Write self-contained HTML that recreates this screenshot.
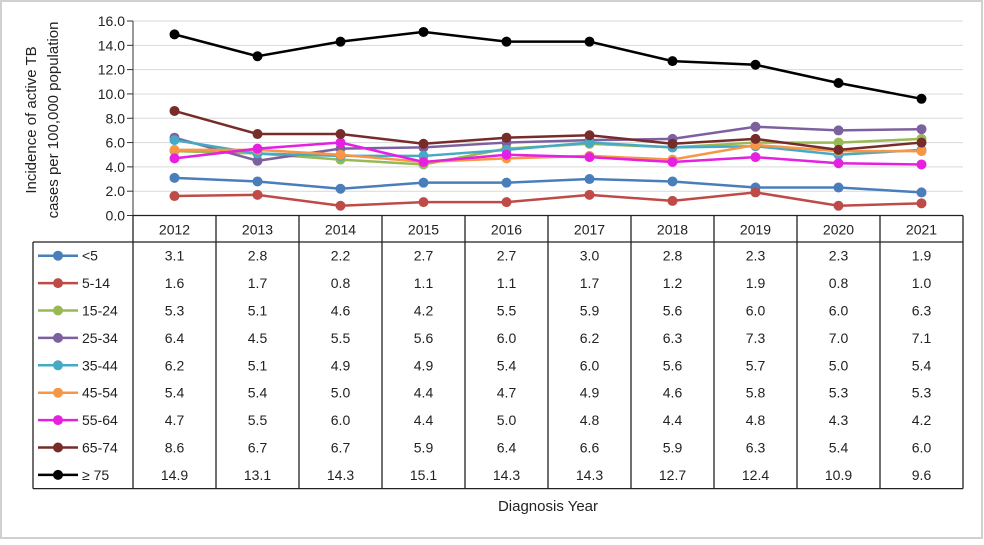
<!DOCTYPE html>
<html><head><meta charset="utf-8"><style>
body{margin:0;background:#fff;}
svg text{font-family:"Liberation Sans",sans-serif;}
</style></head><body>
<svg width="984" height="540" xmlns="http://www.w3.org/2000/svg">
<rect x="1" y="1" width="981" height="537" fill="#fff" stroke="#d0d0d0" stroke-width="2"/>
<g id="grid"></g><g id="table"></g><g id="series"></g>
<text x="0" y="0" transform="translate(36,120) rotate(-90)" text-anchor="middle" font-size="15" fill="#222"><tspan x="0" dy="0">Incidence of active TB</tspan><tspan x="0" dy="22">cases per 100,000 population</tspan></text>
<text x="548" y="511" text-anchor="middle" font-size="15" fill="#222">Diagnosis Year</text>
</svg>
<script>
const years=["2012","2013","2014","2015","2016","2017","2018","2019","2020","2021"];
const seriesNames=["<5","5-14","15-24","25-34","35-44","45-54","55-64","65-74","≥ 75"];
const seriesColors=["#4a7ebb","#be4b48","#98b954","#7d60a0","#46aac5","#f79646","#e620e0","#772c2a","#000000"];
const s0=[3.1,2.8,2.2,2.7,2.7,3.0,2.8,2.3,2.3,1.9];
const s1=[1.6,1.7,0.8,1.1,1.1,1.7,1.2,1.9,0.8,1.0];
const s2=[5.3,5.1,4.6,4.2,5.5,5.9,5.6,6.0,6.0,6.3];
const s3=[6.4,4.5,5.5,5.6,6.0,6.2,6.3,7.3,7.0,7.1];
const s4=[6.2,5.1,4.9,4.9,5.4,6.0,5.6,5.7,5.0,5.4];
const s5=[5.4,5.4,5.0,4.4,4.7,4.9,4.6,5.8,5.3,5.3];
const s6=[4.7,5.5,6.0,4.4,5.0,4.8,4.4,4.8,4.3,4.2];
const s7=[8.6,6.7,6.7,5.9,6.4,6.6,5.9,6.3,5.4,6.0];
const s8=[14.9,13.1,14.3,15.1,14.3,14.3,12.7,12.4,10.9,9.6];
const yTicks=[0,2,4,6,8,10,12,14,16];
const allSeries=[s0,s1,s2,s3,s4,s5,s6,s7,s8];
const NS="http://www.w3.org/2000/svg";
const L=133,R=963,T=21,B=215.5,colW=(R-L)/years.length,rowH=27.4,hdrB=242;
const x=i=>L+colW*(i+0.5), y=v=>B-(v/16)*(B-T);
function mk(tag,attrs,parent,txt){const e=document.createElementNS(NS,tag);for(const k in attrs)e.setAttribute(k,attrs[k]);if(txt!==undefined)e.textContent=txt;parent.appendChild(e);return e;}
const grid=document.getElementById('grid'),tbl=document.getElementById('table'),ser=document.getElementById('series');
yTicks.forEach(t=>{
  if(t>0){const g=mk('line',{x1:L,x2:R,y1:y(t),y2:y(t),stroke:'#d9d9d9','stroke-width':1},grid);
  
  }
  const tx=mk('text',{x:L-8,y:y(t)+5,'text-anchor':'end','font-size':14,fill:'#222'},grid,t.toFixed(1));
  
  
  mk('line',{x1:L-6,x2:L,y1:y(t),y2:y(t),stroke:'#333'},grid);
});
mk('line',{x1:L,x2:L,y1:T,y2:B,stroke:'#333'},grid);
const bottom=hdrB+rowH*seriesNames.length;
const st={stroke:'#222','stroke-width':1.3,fill:'none'};
mk('line',Object.assign({x1:L,x2:R,y1:B,y2:B},st),tbl);
mk('line',Object.assign({x1:33,x2:R,y1:hdrB,y2:hdrB},st),tbl);
mk('line',Object.assign({x1:33,x2:R,y1:bottom,y2:bottom},st),tbl);
mk('line',Object.assign({x1:33,x2:33,y1:hdrB,y2:bottom},st),tbl);
for(let i=0;i<=years.length;i++){mk('line',Object.assign({x1:L+colW*i,x2:L+colW*i,y1:B,y2:bottom},st),tbl);}
years.forEach((yr,i)=>{
  const t=mk('text',{x:x(i),y:B+19,'text-anchor':'middle','font-size':14,fill:'#222'},tbl,yr);
  
  
});
seriesNames.forEach((n,k)=>{
  const ry=hdrB+rowH*(k+0.5);
  const lg=mk('g',{},tbl);
  
  
  mk('line',{x1:38,x2:78,y1:ry,y2:ry,stroke:seriesColors[k],'stroke-width':2.5},lg);
  mk('circle',{cx:58,cy:ry,r:5,fill:seriesColors[k]},lg);
  mk('text',{x:82,y:ry+5,'font-size':14,fill:'#222'},lg,n);
  allSeries[k].forEach((v,i)=>{
    const c=mk('text',{x:x(i),y:ry+5,'text-anchor':'middle','font-size':14,fill:'#222'},tbl,v.toFixed(1));
    
    
  });
});
allSeries.forEach((d,k)=>{
  const g=mk('g',{},ser);
  
  
  mk('polyline',{points:d.map((v,i)=>x(i)+','+y(v)).join(' '),fill:'none',stroke:seriesColors[k],'stroke-width':2.5},g);
  d.forEach((v,i)=>{
    const c=mk('circle',{cx:x(i),cy:y(v),r:5,fill:seriesColors[k]},g);
    
    
  });
});
</script>
</body></html>
